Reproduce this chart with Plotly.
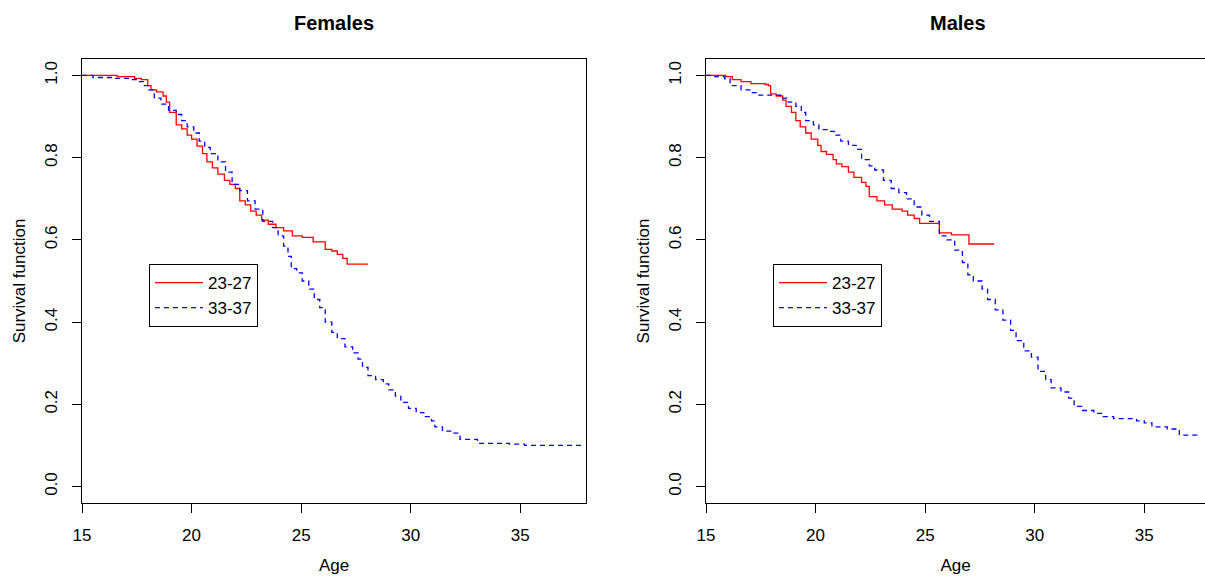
import plotly.graph_objects as go

# ---------------- data ----------------
series_labels = ["23-27", "33-37"]
panel_titles = ["Females", "Males"]
x_ticks = [15, 20, 25, 30, 35]
y_ticks = [0.0, 0.2, 0.4, 0.6, 0.8, 1.0]
y_tick_labels = ["0.0", "0.2", "0.4", "0.6", "0.8", "1.0"]

f_young_age = [15.0, 16.6, 17.4, 17.7, 18.0, 18.15, 18.4, 18.7, 18.85, 19.0, 19.3, 19.55, 19.8, 20.0,
               20.25, 20.5, 20.7, 20.95, 21.2, 21.5, 21.75, 22.0, 22.2, 22.45, 22.7, 22.95, 23.2, 23.5,
               23.85, 24.2, 24.6, 25.05, 25.55, 26.1, 26.4, 26.65, 26.9, 27.1, 28.05]
f_young_surv = [1.0, 0.997, 0.993, 0.99, 0.975, 0.965, 0.96, 0.95, 0.935, 0.91, 0.88, 0.87, 0.855, 0.845,
                0.828, 0.81, 0.79, 0.775, 0.76, 0.745, 0.735, 0.725, 0.695, 0.685, 0.67, 0.66, 0.648, 0.638,
                0.63, 0.622, 0.61, 0.606, 0.595, 0.577, 0.573, 0.565, 0.555, 0.541, 0.541]

f_old_age = [15.0, 15.5, 16.5, 17.3, 17.55, 17.8, 18.05, 18.3, 18.6, 18.95, 19.3, 19.55, 19.8, 20.1,
             20.35, 20.6, 20.85, 21.2, 21.55, 21.85, 22.2, 22.55, 22.9, 23.25, 23.7, 23.95, 24.2, 24.4,
             24.55, 24.8, 25.05, 25.35, 25.6, 25.85, 26.1, 26.4, 26.65, 27.0, 27.35, 27.6, 27.8, 28.05,
             28.4, 28.75, 29.0, 29.3, 29.55, 29.9, 30.25, 30.6, 30.95, 31.1, 31.45, 31.9, 32.25, 33.05,
             34.5, 35.2, 37.95]
f_old_surv = [1.0, 0.995, 0.993, 0.99, 0.985, 0.975, 0.965, 0.945, 0.93, 0.915, 0.905, 0.89, 0.875, 0.86,
              0.84, 0.825, 0.81, 0.79, 0.765, 0.735, 0.72, 0.695, 0.675, 0.645, 0.63, 0.61, 0.585, 0.56,
              0.53, 0.52, 0.5, 0.48, 0.455, 0.435, 0.4, 0.375, 0.36, 0.34, 0.325, 0.31, 0.29, 0.27,
              0.26, 0.25, 0.235, 0.22, 0.205, 0.19, 0.18, 0.17, 0.16, 0.145, 0.135, 0.13, 0.115, 0.105,
              0.103, 0.1, 0.1]

m_young_age = [15.0, 15.9, 16.2, 16.6, 17.05, 17.7, 17.85, 17.95, 18.2, 18.5, 18.65, 18.9, 19.1, 19.3,
               19.55, 19.8, 20.1, 20.25, 20.5, 20.8, 20.95, 21.2, 21.5, 21.75, 22.1, 22.3, 22.45, 22.8,
               23.15, 23.5, 23.95, 24.2, 24.5, 24.75, 25.65, 26.2, 27.0, 28.15]
m_young_surv = [1.0, 0.997, 0.99, 0.985, 0.98, 0.978, 0.975, 0.955, 0.95, 0.94, 0.925, 0.91, 0.89, 0.875,
                0.86, 0.845, 0.83, 0.815, 0.808, 0.795, 0.785, 0.778, 0.765, 0.752, 0.74, 0.73, 0.705, 0.695,
                0.685, 0.675, 0.67, 0.66, 0.652, 0.64, 0.617, 0.612, 0.59, 0.59]

m_old_age = [15.0, 15.4, 15.85, 16.1, 16.6, 17.05, 17.35, 18.4, 18.75, 19.1, 19.35, 19.55, 19.9, 20.15,
             20.6, 20.85, 21.15, 21.5, 21.85, 22.1, 22.45, 22.7, 23.1, 23.45, 23.8, 24.15, 24.5, 24.85,
             25.2, 25.65, 26.0, 26.35, 26.7, 26.95, 27.2, 27.6, 27.85, 28.2, 28.55, 28.9, 29.15, 29.5,
             29.85, 30.15, 30.5, 30.75, 31.2, 31.55, 31.8, 32.15, 32.7, 33.05, 33.6, 34.65, 35.0, 35.35,
             36.05, 36.6, 37.55]
m_old_surv = [1.0, 0.997, 0.992, 0.975, 0.965, 0.958, 0.952, 0.945, 0.935, 0.925, 0.91, 0.89, 0.88, 0.868,
              0.864, 0.855, 0.84, 0.83, 0.82, 0.795, 0.78, 0.77, 0.745, 0.725, 0.715, 0.7, 0.68, 0.66,
              0.645, 0.61, 0.6, 0.575, 0.545, 0.515, 0.5, 0.48, 0.455, 0.43, 0.405, 0.38, 0.355, 0.33,
              0.315, 0.28, 0.26, 0.24, 0.23, 0.215, 0.195, 0.185, 0.178, 0.17, 0.165, 0.16, 0.155, 0.145,
              0.14, 0.125, 0.125]

# ---------------- figure ----------------
W, H = 1205, 586
FONT = "Liberation Sans, Arial, Helvetica, sans-serif"
RED, BLUE = "#FF0000", "#0000FF"

fig = go.Figure()

def add(x, y, name, color, dash, xa, ya, legend, show):
    fig.add_trace(go.Scatter(
        x=x, y=y, mode="lines", line_shape="hv", name=name,
        line=dict(color=color, width=1.3, dash=dash),
        xaxis=xa, yaxis=ya, legend=legend, showlegend=show, hoverinfo="skip"))

add(f_young_age, f_young_surv, series_labels[0], RED, "solid", "x", "y", "legend", True)
add(f_old_age, f_old_surv, series_labels[1], BLUE, "5px,4px", "x", "y", "legend", True)
add(m_young_age, m_young_surv, series_labels[0], RED, "solid", "x2", "y2", "legend2", True)
add(m_old_age, m_old_surv, series_labels[1], BLUE, "5px,4px", "x2", "y2", "legend2", True)

y_dom = [1 - 503 / H, 1 - 59 / H]
unit = (586 - 82) / 23.0

common_x = dict(tickvals=x_ticks, ticks="outside", ticklen=9, tickwidth=1, tickcolor="black",
                showline=True, linecolor="black", linewidth=1, showgrid=False, zeroline=False,
                tickfont=dict(family=FONT, size=17, color="black"), automargin=False,
                ticklabelstandoff=8,
                title=dict(text="Age", font=dict(family=FONT, size=17, color="black"), standoff=14))
common_y = dict(range=[-0.04, 1.04], tickvals=y_ticks, ticktext=y_tick_labels, tickangle=-90,
                ticks="outside", ticklen=9, tickwidth=1, tickcolor="black",
                showline=True, linecolor="black", linewidth=1, showgrid=False, zeroline=False,
                tickfont=dict(family=FONT, size=17, color="black"), automargin=False,
                ticklabelstandoff=8,
                title=dict(text="Survival function", font=dict(family=FONT, size=17, color="black"),
                           standoff=12))

legend_common = dict(xanchor="left", yanchor="top", bordercolor="black", borderwidth=1,
                     bgcolor="white", font=dict(family=FONT, size=17, color="black"),
                     itemwidth=48, tracegroupgap=0)

fig.update_layout(
    width=W, height=H, template="none",
    paper_bgcolor="white", plot_bgcolor="white",
    margin=dict(l=0, r=0, t=0, b=0),
    font=dict(family=FONT, size=17, color="black"),
    xaxis=dict(domain=[82 / W, 586 / W], range=[15, 38], mirror=True, anchor="y", **common_x),
    yaxis=dict(domain=y_dom, mirror=True, anchor="x", **common_y),
    xaxis2=dict(domain=[706 / W, 1.0], range=[15, 15 + (W - 706) / unit], mirror=True, anchor="y2",
                **common_x),
    yaxis2=dict(domain=y_dom, mirror=False, anchor="x2", **common_y),
    legend=dict(x=149 / W, y=1 - 264 / H, **legend_common),
    legend2=dict(x=773 / W, y=1 - 264 / H, **legend_common),
    annotations=[
        dict(text="<b>%s</b>" % panel_titles[0], x=334 / W, y=1 - 23 / H, xref="paper", yref="paper",
             showarrow=False, xanchor="center", yanchor="middle",
             font=dict(family=FONT, size=20, color="black")),
        dict(text="<b>%s</b>" % panel_titles[1], x=958 / W, y=1 - 23 / H, xref="paper", yref="paper",
             showarrow=False, xanchor="center", yanchor="middle",
             font=dict(family=FONT, size=20, color="black")),
    ],
)

fig.write_html("out.html", config={"displayModeBar": False},
               post_script="document.body.style.margin='0';document.body.style.overflow='hidden';")
